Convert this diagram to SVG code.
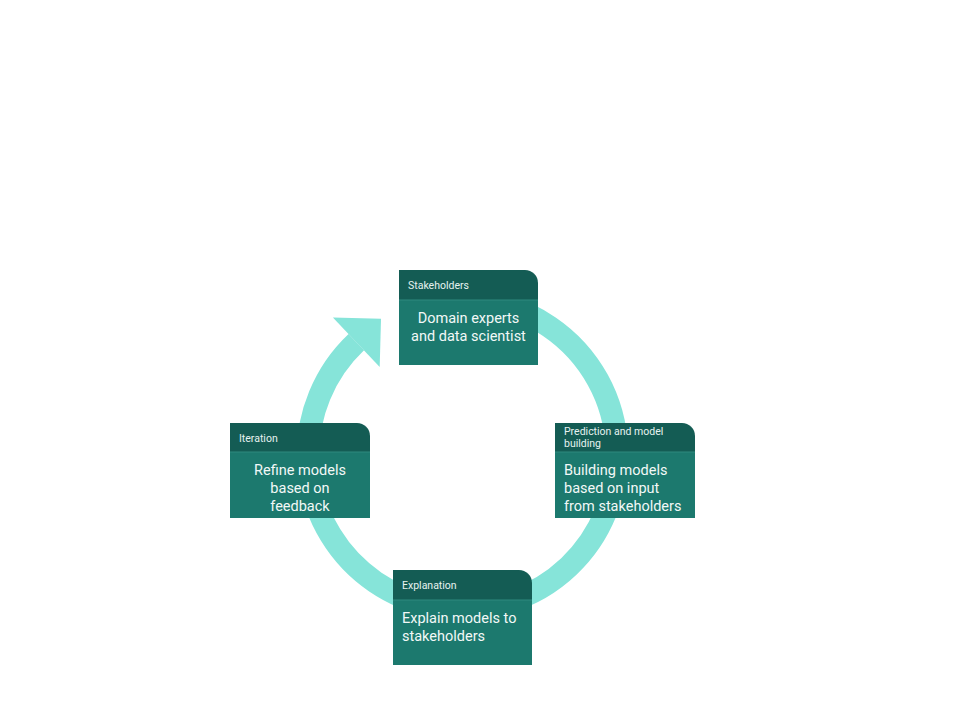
<svg xmlns="http://www.w3.org/2000/svg" width="960" height="720" viewBox="0 0 960 720">
<style>
.ring{fill:none;stroke:#86E4D9;stroke-width:22.5;stroke-linecap:butt}
.head{fill:#145C54}
.body{fill:#1C796E}
.sep{stroke:#2E8A7E;stroke-width:1}
.ht{font-family:Roboto,"Liberation Sans",sans-serif;font-size:10.5px;fill:#E6F2F0}
.bt{font-family:Roboto,"Liberation Sans",sans-serif;font-size:14.5px;fill:#F2F8F7}
</style>
<rect width="960" height="720" fill="#FFFFFF"/>
<g id="connectors">
<path class="ring" d="M489.3 302.3 A154.5 154.5 0 1 1 356.3 342.2"/>
<polygon points="332.9,317.5 381,318.8 379.7,366.9" fill="#86E4D9"/>
</g>
<g id="stakeholders">
<path class="head" d="M399 270 H525 A13 13 0 0 1 538 283 V300 H399 Z"/>
<rect class="body" x="399" y="300" width="139" height="65"/>
<line class="sep" x1="399" y1="300" x2="538" y2="300"/>
<text class="ht" x="408" y="289">Stakeholders</text>
<text class="bt" x="468.5" y="323" text-anchor="middle">Domain experts</text>
<text class="bt" x="468.5" y="341" text-anchor="middle">and data scientist</text>
</g>
<g id="prediction">
<path class="head" d="M555 423 H682 A13 13 0 0 1 695 436 V452 H555 Z"/>
<rect class="body" x="555" y="452" width="140" height="66"/>
<line class="sep" x1="555" y1="452" x2="695" y2="452"/>
<text class="ht" x="564" y="435">Prediction and model</text>
<text class="ht" x="564" y="447">building</text>
<text class="bt" x="564" y="475">Building models</text>
<text class="bt" x="564" y="493">based on input</text>
<text class="bt" x="564" y="511">from stakeholders</text>
</g>
<g id="iteration">
<path class="head" d="M230 423 H357 A13 13 0 0 1 370 436 V452 H230 Z"/>
<rect class="body" x="230" y="452" width="140" height="66"/>
<line class="sep" x1="230" y1="452" x2="370" y2="452"/>
<text class="ht" x="239" y="442">Iteration</text>
<text class="bt" x="300" y="475" text-anchor="middle">Refine models</text>
<text class="bt" x="300" y="493" text-anchor="middle">based on</text>
<text class="bt" x="300" y="511" text-anchor="middle">feedback</text>
</g>
<g id="explanation">
<path class="head" d="M393 570 H519 A13 13 0 0 1 532 583 V600 H393 Z"/>
<rect class="body" x="393" y="600" width="139" height="65"/>
<line class="sep" x1="393" y1="600" x2="532" y2="600"/>
<text class="ht" x="402" y="589">Explanation</text>
<text class="bt" x="402" y="623">Explain models to</text>
<text class="bt" x="402" y="641">stakeholders</text>
</g>
</svg>
